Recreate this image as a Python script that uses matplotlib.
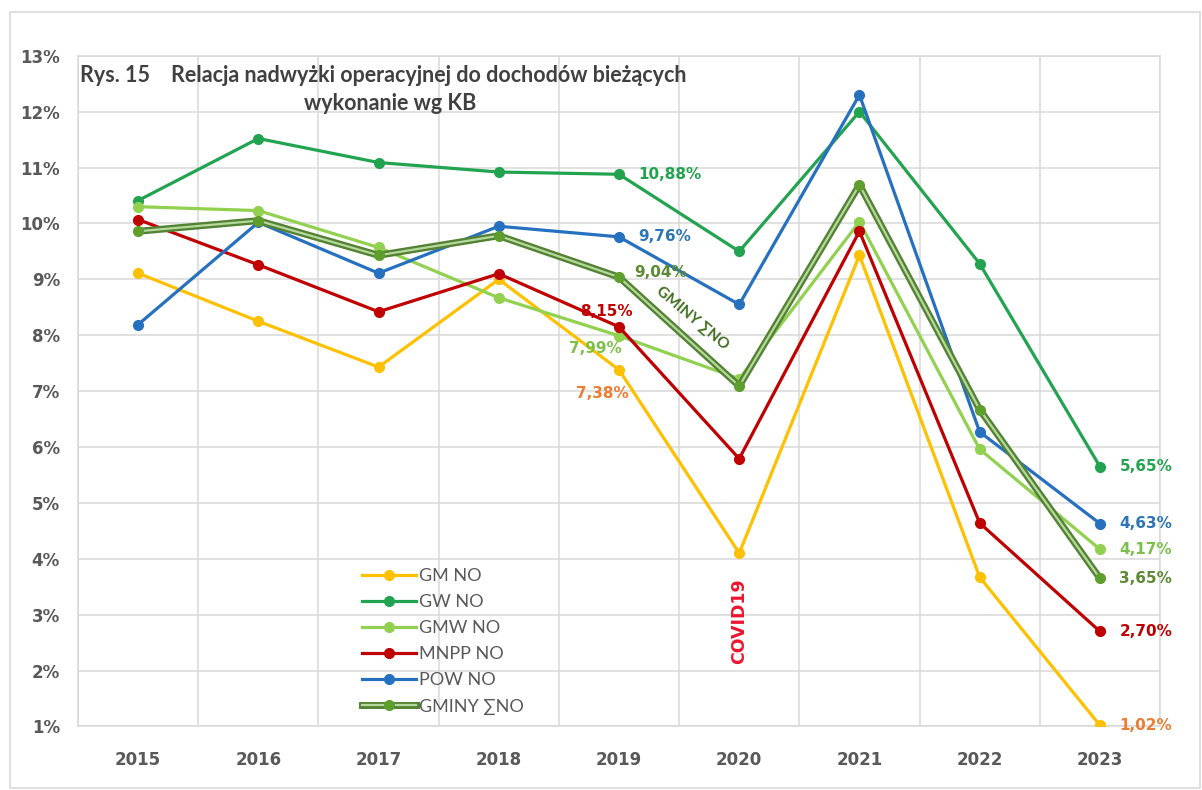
import matplotlib
matplotlib.use("Agg")
import matplotlib.pyplot as plt
import matplotlib.patheffects as pe
from matplotlib.patches import Rectangle

# Data (values in %)
years = ['2015', '2016', '2017', '2018', '2019', '2020', '2021', '2022', '2023']
gm_no = [9.11, 8.25, 7.43, 9.00, 7.38, 4.10, 9.43, 3.67, 1.02]
gw_no = [10.41, 11.52, 11.09, 10.92, 10.88, 9.50, 12.00, 9.28, 5.65]
gmw_no = [10.30, 10.23, 9.57, 8.67, 7.99, 7.22, 10.03, 5.96, 4.17]
mnpp_no = [10.07, 9.26, 8.42, 9.10, 8.15, 5.79, 9.86, 4.64, 2.70]
pow_no = [8.19, 10.02, 9.11, 9.95, 9.76, 8.55, 12.30, 6.27, 4.63]
gminy_no = [9.86, 10.05, 9.43, 9.78, 9.04, 7.09, 10.69, 6.67, 3.65]

names = ['GM NO', 'GW NO', 'GMW NO', 'MNPP NO', 'POW NO', 'GMINY ∑NO']
series = [gm_no, gw_no, gmw_no, mnpp_no, pow_no, gminy_no]
colors = ['#FFC000', '#22A350', '#92D050', '#C00000', '#2670C0', '#5E9E2C']
lab_colors = ['#ED7D31', '#22A350', '#7CC04A', '#C00000', '#2E75B6', '#5B8A33']

font_c = ['Lato', 'DejaVu Sans']
grid_c = '#D9D9D9'
text_c = '#595959'

fig = plt.figure(figsize=(12.02, 7.90), dpi=100)
fig.patches.append(Rectangle((10 / 1202, 2 / 790), 1190 / 1202, 776 / 790,
                             transform=fig.transFigure, fill=False,
                             edgecolor=grid_c, lw=1.2))
ax = fig.add_axes([78 / 1202, 1 - 726.4 / 790, 1082 / 1202, (726.4 - 55.8) / 790])

x = list(range(len(years)))
handles = []
for name, ys, c in zip(names, series, colors):
    if name.startswith('GMINY'):
        ln, = ax.plot(x, ys, color='#B5D99A', lw=1.6, zorder=3,
                      path_effects=[pe.Stroke(linewidth=5.0, foreground='#548235'), pe.Normal()])
        mk, = ax.plot(x, ys, ls='none', marker='o', ms=7, color=c, zorder=3.5)
        handles.append((ln, mk))
    else:
        ln, = ax.plot(x, ys, color=c, lw=2.3, marker='o', ms=7, zorder=3)
        handles.append(ln)

ax.set_xlim(-0.5, len(years) - 0.5)
ax.set_ylim(1, 13)
ax.set_yticks(range(1, 14))
ax.set_yticklabels([f'{v}%' for v in range(1, 14)])
ax.set_xticks(x)
ax.set_xticklabels(years)
ax.set_xticks([v - 0.5 for v in range(len(years) + 1)], minor=True)
ax.grid(axis='y', which='major', color=grid_c, lw=1.1)
ax.grid(axis='x', which='minor', color=grid_c, lw=1.1)
ax.set_axisbelow(True)
ax.tick_params(axis='both', which='both', length=0)
ax.tick_params(axis='y', pad=13, labelsize=12, labelcolor=text_c)
ax.tick_params(axis='x', pad=18, labelsize=12, labelcolor=text_c)
for lbl in ax.get_xticklabels() + ax.get_yticklabels():
    lbl.set_fontweight('bold')
for s in ax.spines.values():
    s.set_color(grid_c)
    s.set_linewidth(1.1)

# data labels for 2019
i19 = years.index('2019')
offs19 = {0: (-12, -17, 'center'), 1: (14, 0, 'left'), 2: (-17, -9, 'center'),
          3: (-9, 11, 'center'), 4: (14, 0, 'left'), 5: (11, 3, 'left')}
for k, (dx, dy, ha) in offs19.items():
    v = series[k][i19]
    ax.annotate(f'{v:.2f}%'.replace('.', ','), (i19, v), xytext=(dx, dy),
                textcoords='offset points', ha=ha, va='center', fontsize=11,
                fontweight='bold', color=lab_colors[k], zorder=4)

# data labels for 2023
i23 = years.index('2023')
for k, ys in enumerate(series):
    v = ys[i23]
    ax.annotate(f'{v:.2f}%'.replace('.', ','), (i23, v), xytext=(14, 0),
                textcoords='offset points', ha='left', va='center', fontsize=11,
                fontweight='bold', color=lab_colors[k], annotation_clip=False)

ax.text(4.61, 8.31, 'GMINY ∑NO', rotation=-40, ha='center', va='center',
        fontsize=11, fontweight='bold', color='#3F6F1F', family=font_c,
        rotation_mode='anchor')
ax.text(5, 2.89, 'COVID19', rotation=90, ha='center', va='center',
        fontsize=12.5, fontweight='bold', color='#F0142D')

fig.text(80 / 1202, 1 - 75 / 790, 'Rys. 15    Relacja nadwyżki operacyjnej do dochodów bieżących',
         ha='left', va='center', fontsize=15.5, fontweight='bold', color='#404040', family=font_c)
fig.text(390 / 1202, 1 - 104 / 790, 'wykonanie wg KB', ha='center', va='center',
         fontsize=15.5, fontweight='bold', color='#404040', family=font_c)

leg = ax.legend(handles, names, loc='upper left', bbox_to_anchor=(362 / 1202, 1 - 568 / 790),
                bbox_transform=fig.transFigure, frameon=False,
                handlelength=3.0, handletextpad=0.15, labelspacing=0.56,
                borderpad=0, borderaxespad=0, prop={'family': font_c, 'size': 13})
for t in leg.get_texts():
    t.set_color(text_c)

fig.savefig('out.png', dpi=100)
